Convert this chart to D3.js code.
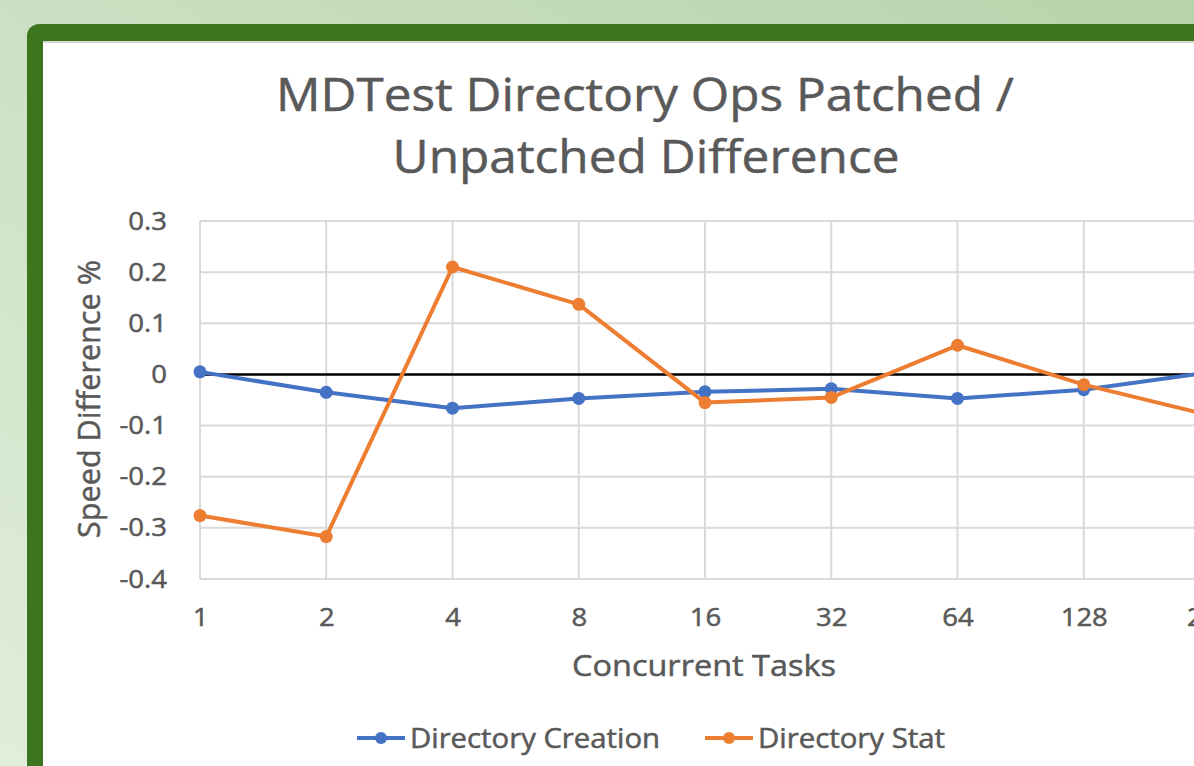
<!DOCTYPE html>
<html>
<head>
<meta charset="utf-8">
<script src="https://cdn.jsdelivr.net/npm/d3@7"></script>
<style>
  html, body { margin: 0; padding: 0; overflow: hidden; }
  svg { display: block; font-family: "Open Sans", sans-serif; }
</style>
</head>
<body>
<div id="chart"></div>
<script>
// data
var tasks = ["1", "2", "4", "8", "16", "32", "64", "128", "256"];
var creation = [0.005, -0.035, -0.066, -0.047, -0.034, -0.028, -0.047, -0.03, 0.004];
var stat = [-0.276, -0.317, 0.21, 0.137, -0.055, -0.045, 0.057, -0.02, -0.08];
var yTicks = [0.3, 0.2, 0.1, 0, -0.1, -0.2, -0.3, -0.4];
var seriesNames = ["Directory Creation", "Directory Stat"];
var seriesColors = ["#4472c4", "#ed7d31"];

var W = 1194, H = 766;
var textColor = "#595959";

var svg = d3.select("#chart").append("svg")
    .attr("width", W)
    .attr("height", H);

// background + frame
var defs = svg.append("defs");
var grad = defs.append("linearGradient")
    .attr("id", "bg")
    .attr("x1", "100%").attr("y1", "0%")
    .attr("x2", "0%").attr("y2", "100%");
grad.append("stop").attr("offset", "0%").attr("stop-color", "#b7d3ab");
grad.append("stop").attr("offset", "45%").attr("stop-color", "#c9dfc0");
grad.append("stop").attr("offset", "100%").attr("stop-color", "#e0eeda");

svg.append("rect").attr("width", W).attr("height", H).attr("fill", "url(#bg)");
svg.append("rect")
    .attr("x", 27).attr("y", 24)
    .attr("width", 1300).attr("height", 900)
    .attr("rx", 12)
    .attr("fill", "#3b761f");
svg.append("rect")
    .attr("x", 43).attr("y", 41)
    .attr("width", 1300).attr("height", 900)
    .attr("fill", "#ffffff");
svg.append("rect")
    .attr("x", 43).attr("y", 41)
    .attr("width", 1300).attr("height", 2)
    .attr("fill", "#d6d6d6");

// stretch text to the wide look of the original, and thicken a bit
function fit(sel, w) {
    sel.attr("textLength", w).attr("lengthAdjust", "spacingAndGlyphs")
        .attr("stroke", textColor).attr("stroke-width", 0.5);
}

// scales
var x = d3.scalePoint().domain(tasks).range([200, 1210]);
var y = d3.scaleLinear().domain([-0.4, 0.3]).range([579, 221]);

// gridlines
svg.append("g")
    .selectAll("line")
    .data(yTicks)
    .enter().append("line")
    .attr("x1", 200).attr("x2", 1260)
    .attr("y1", function (d) { return y(d); })
    .attr("y2", function (d) { return y(d); })
    .attr("stroke", "#d9d9d9")
    .attr("stroke-width", 2);

svg.append("g")
    .selectAll("line")
    .data(tasks)
    .enter().append("line")
    .attr("x1", function (d) { return x(d); })
    .attr("x2", function (d) { return x(d); })
    .attr("y1", y(0.3)).attr("y2", y(-0.4))
    .attr("stroke", "#d9d9d9")
    .attr("stroke-width", 2);

// zero line
svg.append("line")
    .attr("x1", 200).attr("x2", 1260)
    .attr("y1", y(0)).attr("y2", y(0))
    .attr("stroke", "#000")
    .attr("stroke-width", 2.5);

// y axis labels (plain hyphen like the original)
var yAxis = svg.append("g")
    .attr("transform", "translate(200,0)")
    .call(d3.axisLeft(y).tickValues(yTicks).tickSize(0).tickPadding(33)
        .tickFormat(function (d) { return d === 0 ? "0" : d3.format(".1f")(d).replace("\u2212", "-"); }));
yAxis.select(".domain").remove();
yAxis.selectAll("text")
    .attr("font-family", "Open Sans, sans-serif")
    .attr("font-size", 25)
    .attr("fill", textColor);

// x axis labels
var xAxis = svg.append("g")
    .attr("transform", "translate(0," + y(-0.4) + ")")
    .call(d3.axisBottom(x).tickSize(0).tickPadding(29));
xAxis.select(".domain").remove();
xAxis.selectAll("text")
    .attr("font-family", "Open Sans, sans-serif")
    .attr("font-size", 25)
    .attr("fill", textColor);

// stretch all tick labels by the same factor
var tickK = 1.1;
svg.selectAll(".tick text").each(function () {
    var t = d3.select(this);
    fit(t, this.getComputedTextLength() * tickK);
});

// lines
var line = d3.line()
    .x(function (d, i) { return x(tasks[i]); })
    .y(function (d) { return y(d); });

[creation, stat].forEach(function (vals, s) {
    var g = svg.append("g");
    g.append("path")
        .datum(vals)
        .attr("d", line)
        .attr("fill", "none")
        .attr("stroke", seriesColors[s])
        .attr("stroke-width", 4)
        .attr("stroke-linejoin", "round");
    g.selectAll("circle")
        .data(vals)
        .enter().append("circle")
        .attr("cx", function (d, i) { return x(tasks[i]); })
        .attr("cy", function (d) { return y(d); })
        .attr("r", 6.5)
        .attr("fill", seriesColors[s]);
});

// title
var t1 = svg.append("text")
    .attr("x", 645).attr("y", 111)
    .attr("text-anchor", "middle")
    .attr("font-size", 46)
    .attr("fill", textColor)
    .text("MDTest Directory Ops Patched /");
fit(t1, 738);
var t2 = svg.append("text")
    .attr("x", 646).attr("y", 173)
    .attr("text-anchor", "middle")
    .attr("font-size", 46)
    .attr("fill", textColor)
    .text("Unpatched Difference");
fit(t2, 507);

// axis titles
var xt = svg.append("text")
    .attr("x", 704).attr("y", 676)
    .attr("text-anchor", "middle")
    .attr("font-size", 30)
    .attr("fill", textColor)
    .text("Concurrent Tasks");
fit(xt, 264);

var yt = svg.append("text")
    .attr("transform", "translate(100,399)rotate(-90)")
    .attr("text-anchor", "middle")
    .attr("font-size", 31)
    .attr("fill", textColor)
    .text("Speed Difference %");
fit(yt, 278);

// legend
var legendX = [357, 705];
var legendW = [250, 187];
seriesNames.forEach(function (name, i) {
    var g = svg.append("g").attr("transform", "translate(" + legendX[i] + ",738)");
    g.append("line")
        .attr("x1", 0).attr("x2", 48)
        .attr("stroke", seriesColors[i])
        .attr("stroke-width", 4);
    g.append("circle")
        .attr("cx", 24).attr("r", 6)
        .attr("fill", seriesColors[i]);
    var lt = g.append("text")
        .attr("x", 53).attr("y", 10)
        .attr("font-size", 27)
        .attr("fill", textColor)
        .text(name);
    fit(lt, legendW[i]);
});
</script>
</body>
</html>
